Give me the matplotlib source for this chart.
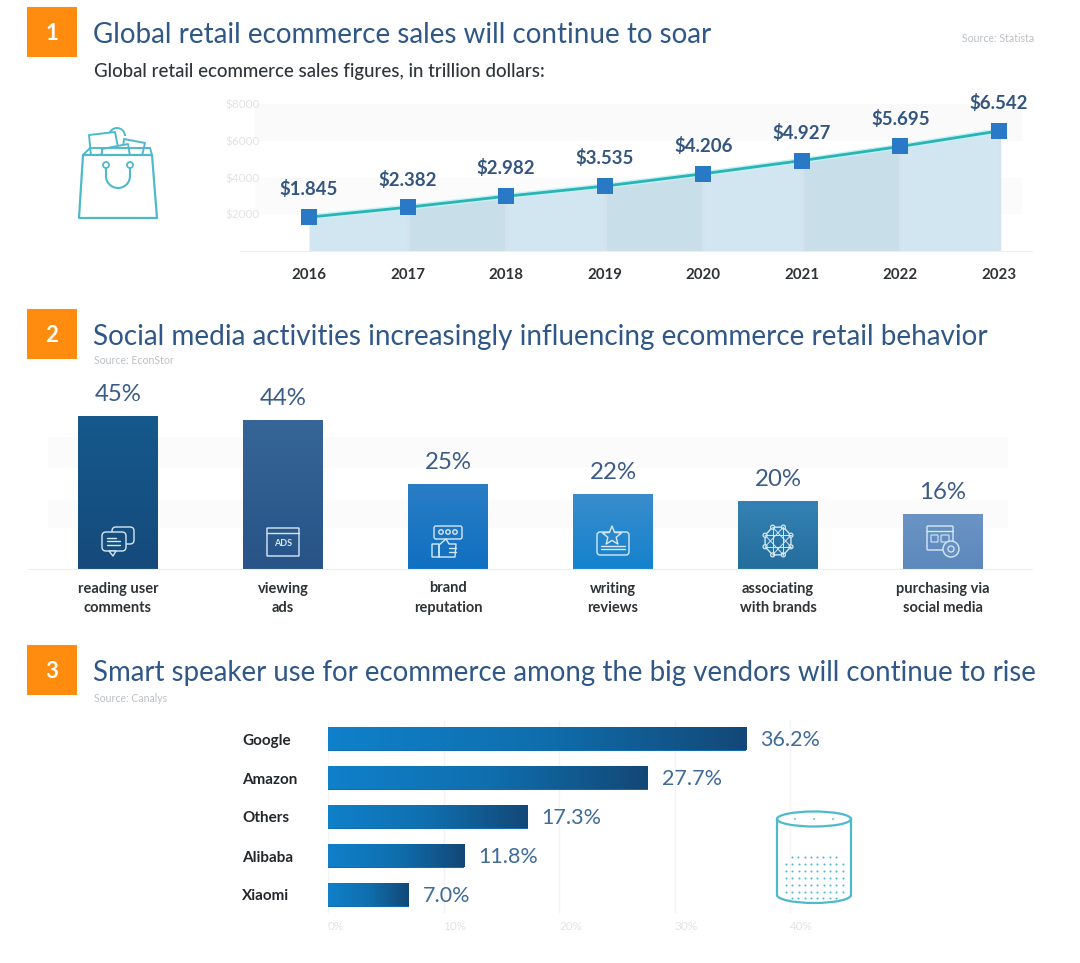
import numpy as np
import matplotlib
matplotlib.use("Agg")
import matplotlib.pyplot as plt
from matplotlib.colors import LinearSegmentedColormap
from matplotlib.patches import Rectangle, Circle, Ellipse, Polygon, FancyBboxPatch, Arc

plt.rcParams['font.family'] = ['Lato', 'Open Sans', 'DejaVu Sans']

# section 1
years = [2016, 2017, 2018, 2019, 2020, 2021, 2022, 2023]
sales = [1.845, 2.382, 2.982, 3.535, 4.206, 4.927, 5.695, 6.542]
sales_ticks = [2, 4, 6, 8]
sales_tick_labels = ['$2000', '$4000', '$6000', '$8000']

# section 2
activities = ['reading user\ncomments', 'viewing\nads', 'brand\nreputation',
              'writing\nreviews', 'associating\nwith brands', 'purchasing via\nsocial media']
shares = [45, 44, 25, 22, 20, 16]
share_colors = [('#15598c', '#154a7b'), ('#366597', '#285488'), ('#2a7dc5', '#1070c0'),
                ('#3a8dcc', '#1482cd'), ('#3482b4', '#246d9d'), ('#6b94c5', '#5c88bc')]

# section 3
vendors = ['Google', 'Amazon', 'Others', 'Alibaba', 'Xiaomi']
vendor_share = [36.2, 27.7, 17.3, 11.8, 7.0]
vendor_ticks = [0, 10, 20, 30, 40]

W, H = 1080, 963
TITLE = '#2f5787'
VALUE = '#33557f'
PALE = '#e0e3e6'
ICON = '#4fb9cc'
ICON2 = '#d5e8f5'

fig = plt.figure(figsize=(W / 100, H / 100), dpi=100, facecolor='white')


def box(x0, y0, x1, y1):
    # pixel box (top-left origin) to figure fractions
    return [x0 / W, 1 - y1 / H, (x1 - x0) / W, (y1 - y0) / H]


ov = fig.add_axes([0, 0, 1, 1], zorder=10)
ov.set_xlim(0, W)
ov.set_ylim(H, 0)
ov.axis('off')
ov.patch.set_alpha(0)

# headers
for num, y, title, tx, fs in [('1', 32, 'Global retail ecommerce sales will continue to soar', 35, 20.0),
                              ('2', 334, 'Social media activities increasingly influencing ecommerce retail behavior', 337, 20.1),
                              ('3', 670, 'Smart speaker use for ecommerce among the big vendors will continue to rise', 673, 19.9)]:
    ov.add_patch(Rectangle((27, y - 25), 50, 50, color='#ff8c0f', lw=0))
    ov.text(52, y + 1, num, color='white', fontsize=16, fontweight='bold', ha='center', va='center')
    ov.text(93, tx, title, color=TITLE, fontsize=fs, ha='left', va='center')

ov.text(94, 72, 'Global retail ecommerce sales figures, in trillion dollars:', color='#2f353a',
        fontsize=13.4, fontweight='medium', ha='left', va='center')
ov.text(1034, 39, 'Source: Statista', color='#bcc0c4', fontsize=7.6, ha='right', va='center')
ov.text(94, 361, 'Source: EconStor', color='#bcc0c4', fontsize=7.6, ha='left', va='center')
ov.text(94, 698, 'Source: Canalys', color='#bcc0c4', fontsize=7.6, ha='left', va='center')

# ---------- chart 1 ----------
ax1 = fig.add_axes(box(240, 104, 1032, 251))
ax1.set_xlim(2016 - 69 / 98.57, 2023 + 33 / 98.57)
ax1.set_ylim(0, 8.01)
ax1.axhspan(6, 8, xmin=15 / 792, xmax=782 / 792, color='#fafafa', lw=0, zorder=0)
ax1.axhspan(2, 4, xmin=15 / 792, xmax=782 / 792, color='#fbfbfb', lw=0, zorder=0)
for i in range(len(years) - 1):
    col = '#d2e6f1' if i % 2 == 0 else '#c8dfea'
    ax1.fill_between(years[i:i + 2], sales[i:i + 2], 0, color=col, lw=0, zorder=1)
ax1.vlines(years[1:], 0, sales[1:], color='#d3e3ee', lw=2.5, zorder=1.5)
ax1.plot(years, sales, color='#c4f1f3', lw=4, zorder=2)
ax1.plot(years, sales, color='#2cb3b5', lw=2, zorder=3)
ax1.plot(years, sales, ls='', marker='s', ms=11.5, color='#2a79c6', mew=0, zorder=4)
for yr, v in zip(years, sales):
    ax1.annotate('$%.3f' % v, (yr, v), xytext=(0, 20), textcoords='offset points', ha='center',
                 va='center', color=VALUE, fontsize=13.4, fontweight='bold')
for s in ['top', 'left', 'right']:
    ax1.spines[s].set_visible(False)
ax1.spines['bottom'].set_color('#eeeeee')
ax1.set_xticks(years)
ax1.set_xticklabels(years, fontsize=10.8, fontweight='bold', color='#2f3336')
ax1.set_yticks(sales_ticks)
ax1.set_yticklabels(sales_tick_labels, fontsize=8.5, color=PALE)
ax1.tick_params(axis='x', length=0, pad=12)
ax1.tick_params(axis='y', length=0, pad=-14)
ax1.patch.set_alpha(0)

# ---------- chart 2 ----------
ax2 = fig.add_axes(box(28, 380, 1032, 569))
xlim2 = (-90 / 165, 5 + 89 / 165)
ylim2 = (0, 189 / 3.38)
ax2.axhspan(12, 20.4, xmin=20 / 1004, xmax=980 / 1004, color='#fbfbfb', lw=0, zorder=0)
ax2.axhspan(30, 39, xmin=20 / 1004, xmax=980 / 1004, color='#fbfbfb', lw=0, zorder=0)
x2 = np.arange(len(shares))
bars = ax2.bar(x2, shares, width=80 / 165, color=[c[0] for c in share_colors], lw=0, zorder=1)
for bar, (c0, c1) in zip(bars, share_colors):
    cmap = LinearSegmentedColormap.from_list('g', [c0, c1])
    im = ax2.imshow(np.linspace(0, 1, 64).reshape(-1, 1), cmap=cmap, aspect='auto', zorder=2,
                    extent=(bar.get_x(), bar.get_x() + bar.get_width(), 0, bar.get_height()))
for xi, v in zip(x2, shares):
    ax2.annotate('%d%%' % v, (xi, v), xytext=(0, 16), textcoords='offset points', ha='center',
                 va='center', color='#3b5c88', fontsize=17.3)
ax2.set_xlim(xlim2)
ax2.set_ylim(ylim2)
for s in ['top', 'left', 'right']:
    ax2.spines[s].set_visible(False)
ax2.spines['bottom'].set_color('#eaeef0')
ax2.set_xticks(x2)
ax2.set_xticklabels(activities, fontsize=10.5, fontweight='bold', color='#2f3336', linespacing=1.5)
ax2.set_yticks([])
ax2.tick_params(axis='x', length=0, pad=9)
ax2.patch.set_alpha(0)

# ---------- chart 3 ----------
ax3 = fig.add_axes(box(328, 720, 860, 913))
y3 = np.arange(len(vendors))
ax3.vlines(vendor_ticks, -0.5, 4.5, color='#f4f4f5', lw=1, zorder=0)
hb = ax3.barh(y3, vendor_share, height=23 / 39, color='#0f6fae', lw=0, zorder=1)
cmap3 = LinearSegmentedColormap.from_list('h', ['#0f80ca', '#0f6fae', '#134877'])
for bar in hb:
    ax3.imshow(np.linspace(0, 1, 128).reshape(1, -1), cmap=cmap3, aspect='auto', zorder=2,
               extent=(0, bar.get_width(), bar.get_y() + bar.get_height(), bar.get_y()))
for yi, v in zip(y3, vendor_share):
    ax3.annotate('%.1f%%' % v, (v, yi), xytext=(10, -1), textcoords='offset points', ha='left',
                 va='center', color='#3f6a9a', fontsize=15.5)
ax3.set_xlim(0, 532 / 11.55)
ax3.set_ylim(4 + 18 / 39, -19 / 39)
for s in ax3.spines.values():
    s.set_visible(False)
ax3.set_yticks(y3)
ax3.set_yticklabels(vendors, fontsize=11, fontweight='bold', color='#23272b', ha='left')
ax3.set_xticks(vendor_ticks)
ax3.set_xticklabels(['%d%%' % t for t in vendor_ticks], fontsize=8.5, color=PALE, ha='left')
ax3.tick_params(axis='y', length=0, pad=62)
ax3.tick_params(axis='x', length=0, pad=6)
ax3.patch.set_alpha(0)


# ---------- icons ----------
def line(xs, ys, c=ICON2, lw=1.0):
    ov.plot(xs, ys, color=c, lw=lw, solid_capstyle='round', solid_joinstyle='round')


def poly(pts, c=ICON2, lw=1.0, fc='none'):
    ov.add_patch(Polygon(pts, closed=True, fc=fc, ec=c, lw=lw, joinstyle='round'))


def rbox(x, y, w, h, c=ICON2, lw=1.0, r=2, fc='none'):
    ov.add_patch(FancyBboxPatch((x, y), w, h, boxstyle='round,pad=0,rounding_size=%g' % r,
                                fc=fc, ec=c, lw=lw))


# shopping bag
ov.add_patch(Arc((117, 136), 16, 16, theta1=180, theta2=360, ec=ICON, lw=1.4))
poly([(89, 135), (115, 132), (119, 152), (91, 156)], ICON, 1.4, 'white')
poly([(124, 139), (145, 143), (142, 156), (122, 156)], ICON, 1.4, 'white')
poly([(102, 149), (128, 144), (130, 156), (102, 156)], ICON, 1.4, 'white')
line([83, 90, 150, 152], [155, 148, 148, 155], ICON, 1.4)
poly([(79, 218), (157, 218), (152, 155), (83, 155)], ICON, 1.6, 'white')
ov.add_patch(Circle((106, 165), 3, fc='white', ec=ICON, lw=1.3))
ov.add_patch(Circle((130, 165), 3, fc='white', ec=ICON, lw=1.3))
ov.add_patch(Arc((118, 176), 24, 24, theta1=0, theta2=180, ec=ICON, lw=1.5))
line([106, 106], [168, 176], ICON, 1.5)
line([130, 130], [168, 176], ICON, 1.5)

# chat bubbles
rbox(112, 527, 22, 17, r=4)
rbox(102, 532, 24, 19, r=4, fc='#154e7e')
poly([(109, 551), (113, 556), (116, 551)], fc='#154e7e')
for yy, xe in [(538, 116), (541, 120), (545, 120)]:
    line([107, xe], [yy, yy])

# ads window
rbox(267, 528, 32, 28, r=0.5)
line([267, 299], [533, 533])
ov.text(283, 544, 'ADS', color=ICON2, fontsize=6.5, fontweight='bold', ha='center', va='center')

# thumbs up with stars
rbox(434, 526, 28, 13, r=2)
for cx in [441, 448, 455]:
    ov.add_patch(Circle((cx, 532), 2.2, fc='none', ec=ICON2, lw=1))
rbox(432, 544, 7, 13, r=0.5)
poly([(439, 545), (446, 539), (449, 544), (456, 544), (455, 557), (439, 557)])
for yy in [548, 552]:
    line([449, 456], [yy, yy])

# review card with star
rbox(597, 532, 32, 23, r=3)
th = np.deg2rad(np.arange(10) * 36 - 90)
rr = np.array([10, 4.4] * 5)
poly(np.c_[612 + rr * np.cos(th), 536 + rr * np.sin(th)], fc='#2d88ca')
for yy in [546, 549.5]:
    line([601, 625], [yy, yy])

# network globe
ang = np.deg2rad(np.arange(8) * 45 + 22.5)
gx, gy = 778 + 14 * np.cos(ang), 541 + 15 * np.sin(ang)
poly(np.c_[gx, gy])
for i in range(8):
    line([gx[i], gx[(i + 3) % 8]], [gy[i], gy[(i + 3) % 8]], lw=0.7)
    ov.add_patch(Circle((gx[i], gy[i]), 2, fc='#2a76a8', ec=ICON2, lw=0.9))

# purchase window
rbox(927, 526, 26, 24, r=1)
line([927, 953], [531, 531])
rbox(931, 535, 7, 7, r=0.5, lw=0.8)
rbox(941, 535, 8, 7, r=0.5, lw=0.8)
ov.add_patch(Circle((951, 549), 8, fc='#6690c1', ec=ICON2, lw=1))
ov.add_patch(Circle((951, 549), 3, fc='none', ec=ICON2, lw=0.9))

# smart speaker
ov.plot([777, 777], [819, 895], color=ICON, lw=1.6)
ov.plot([851, 851], [819, 895], color=ICON, lw=1.6)
ov.add_patch(Arc((814, 895), 74, 16, theta1=0, theta2=180, ec=ICON, lw=1.6))
ov.add_patch(Ellipse((814, 819), 74, 15, fc='white', ec=ICON, lw=1.6))
for cx in [795, 814, 833]:
    ov.add_patch(Circle((cx, 819), 0.9, color=ICON, lw=0))
for r, yy in enumerate([857, 864, 871, 878, 885, 892, 898]):
    xs = np.arange(786, 846, 6.3) if 0 < r < 6 else np.arange(792, 840, 6.3)
    ov.scatter(xs, [yy] * len(xs), s=2.2, color=ICON, lw=0)

ov.set_xlim(0, W)
ov.set_ylim(H, 0)
fig.savefig('out.png', dpi=100, facecolor='white')
